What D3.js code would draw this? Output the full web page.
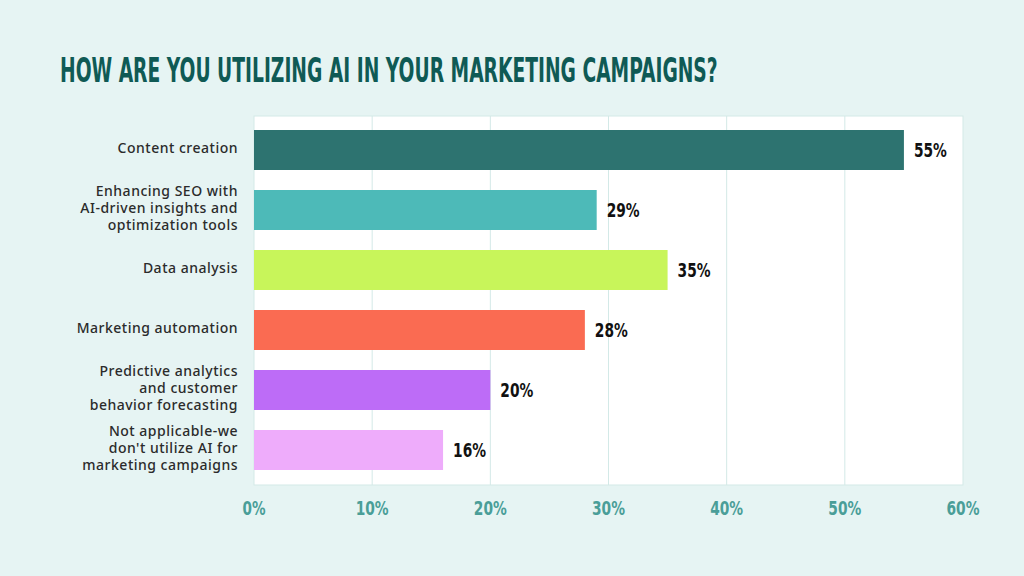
<!DOCTYPE html>
<html>
<head>
<meta charset="utf-8">
<script src="https://cdn.jsdelivr.net/npm/d3@7"></script>
<style>
  html, body { margin: 0; padding: 0; background: #e6f4f3; }
  svg { display: block; }
  .cond { font-family: "Liberation Sans Narrow", "DejaVu Sans Condensed", "Liberation Sans", sans-serif; font-weight: bold; }
  .cat { font-family: "Noto Sans", "Open Sans", sans-serif; font-size: 14px; letter-spacing: 0.5px; fill: #2b2b2b; font-weight: 500; }
</style>
</head>
<body>
<div id="chart"></div>
<script>
// chart data
var categories = [
  "Content creation",
  "Enhancing SEO with\nAI-driven insights and\noptimization tools",
  "Data analysis",
  "Marketing automation",
  "Predictive analytics\nand customer\nbehavior forecasting",
  "Not applicable-we\ndon't utilize AI for\nmarketing campaigns"
];
var values = [55, 29, 35, 28, 20, 16];
var barColors = ["#2d7370", "#4dbab8", "#c8f55a", "#fa6b52", "#bd6cf7", "#eeacfb"];
var tickValues = [0, 10, 20, 30, 40, 50, 60];
var title = "HOW ARE YOU UTILIZING AI IN YOUR MARKETING CAMPAIGNS?";

var svgWidth = 1024, svgHeight = 576;

// plot box
var margin = { top: 116, right: 61, bottom: 91, left: 254 };
var width = svgWidth - margin.left - margin.right;
var height = svgHeight - margin.top - margin.bottom;

var svg = d3.select("#chart")
  .append("svg")
  .attr("width", svgWidth)
  .attr("height", svgHeight);

svg.append("rect")
  .attr("width", svgWidth)
  .attr("height", svgHeight)
  .attr("fill", "#e6f4f3");

// title - squeezed horizontally to look like a condensed display face
var titleText = svg.append("text")
  .attr("class", "cond")
  .attr("x", 0)
  .attr("y", 0)
  .attr("font-size", 33)
  .attr("fill", "#0f5a55")
  .text(title);
var natural = titleText.node().getComputedTextLength();
var sx = 658 / natural;
titleText.attr("transform", `translate(60, 82) scale(${sx}, 1)`);

var chartGroup = svg.append("g")
  .attr("transform", `translate(${margin.left}, ${margin.top})`);

var xScale = d3.scaleLinear()
  .domain([0, 60])
  .range([0, width]);

var yScale = d3.scaleBand()
  .domain(categories)
  .range([4, height - 5])
  .paddingInner(1 / 3)
  .paddingOuter(1 / 6);

// white plot area
chartGroup.append("rect")
  .attr("width", width)
  .attr("height", height)
  .attr("fill", "#ffffff")
  .attr("stroke", "#d3e9e7")
  .attr("stroke-width", 1);

// gridlines
chartGroup.selectAll(".grid")
  .data(tickValues.slice(1, -1))
  .enter()
  .append("line")
  .attr("class", "grid")
  .attr("x1", d => xScale(d))
  .attr("x2", d => xScale(d))
  .attr("y1", 0)
  .attr("y2", height)
  .attr("stroke", "#d3e9e7")
  .attr("stroke-width", 1);

// bars
chartGroup.selectAll(".bar")
  .data(values)
  .enter()
  .append("rect")
  .attr("class", "bar")
  .attr("x", 0)
  .attr("y", (d, i) => yScale(categories[i]))
  .attr("width", d => xScale(d))
  .attr("height", yScale.bandwidth())
  .attr("fill", (d, i) => barColors[i]);

// value labels
chartGroup.selectAll(".val")
  .data(values)
  .enter()
  .append("text")
  .attr("class", "cond val")
  .attr("x", d => xScale(d) + 10)
  .attr("y", (d, i) => yScale(categories[i]) + yScale.bandwidth() / 2)
  .attr("dy", "0.36em")
  .attr("font-size", 20)
  .attr("fill", "#111111")
  .attr("textLength", 33)
  .attr("lengthAdjust", "spacingAndGlyphs")
  .text(d => d + "%");

// category labels
var catGroup = chartGroup.selectAll(".catlabel")
  .data(categories)
  .enter()
  .append("text")
  .attr("class", "cat")
  .attr("text-anchor", "end")
  .attr("x", -16)
  .attr("y", d => yScale(d) + yScale.bandwidth() / 2);

catGroup.each(function(d) {
  var lines = d.split("\n");
  var lineH = 17;
  var start = -(lines.length - 1) * lineH / 2;
  var t = d3.select(this);
  lines.forEach(function(line, j) {
    t.append("tspan")
      .attr("x", -16)
      .attr("dy", j === 0 ? (start + 3) : lineH)
      .text(line);
  });
});

// x axis tick labels
chartGroup.selectAll(".tick-label")
  .data(tickValues)
  .enter()
  .append("text")
  .attr("class", "cond tick-label")
  .attr("x", d => xScale(d))
  .attr("y", height + 30)
  .attr("text-anchor", "middle")
  .attr("font-size", 20)
  .attr("fill", "#4a9e98")
  .attr("textLength", d => d === 0 ? 23 : 33)
  .attr("lengthAdjust", "spacingAndGlyphs")
  .text(d => d + "%");
</script>
</body>
</html>
